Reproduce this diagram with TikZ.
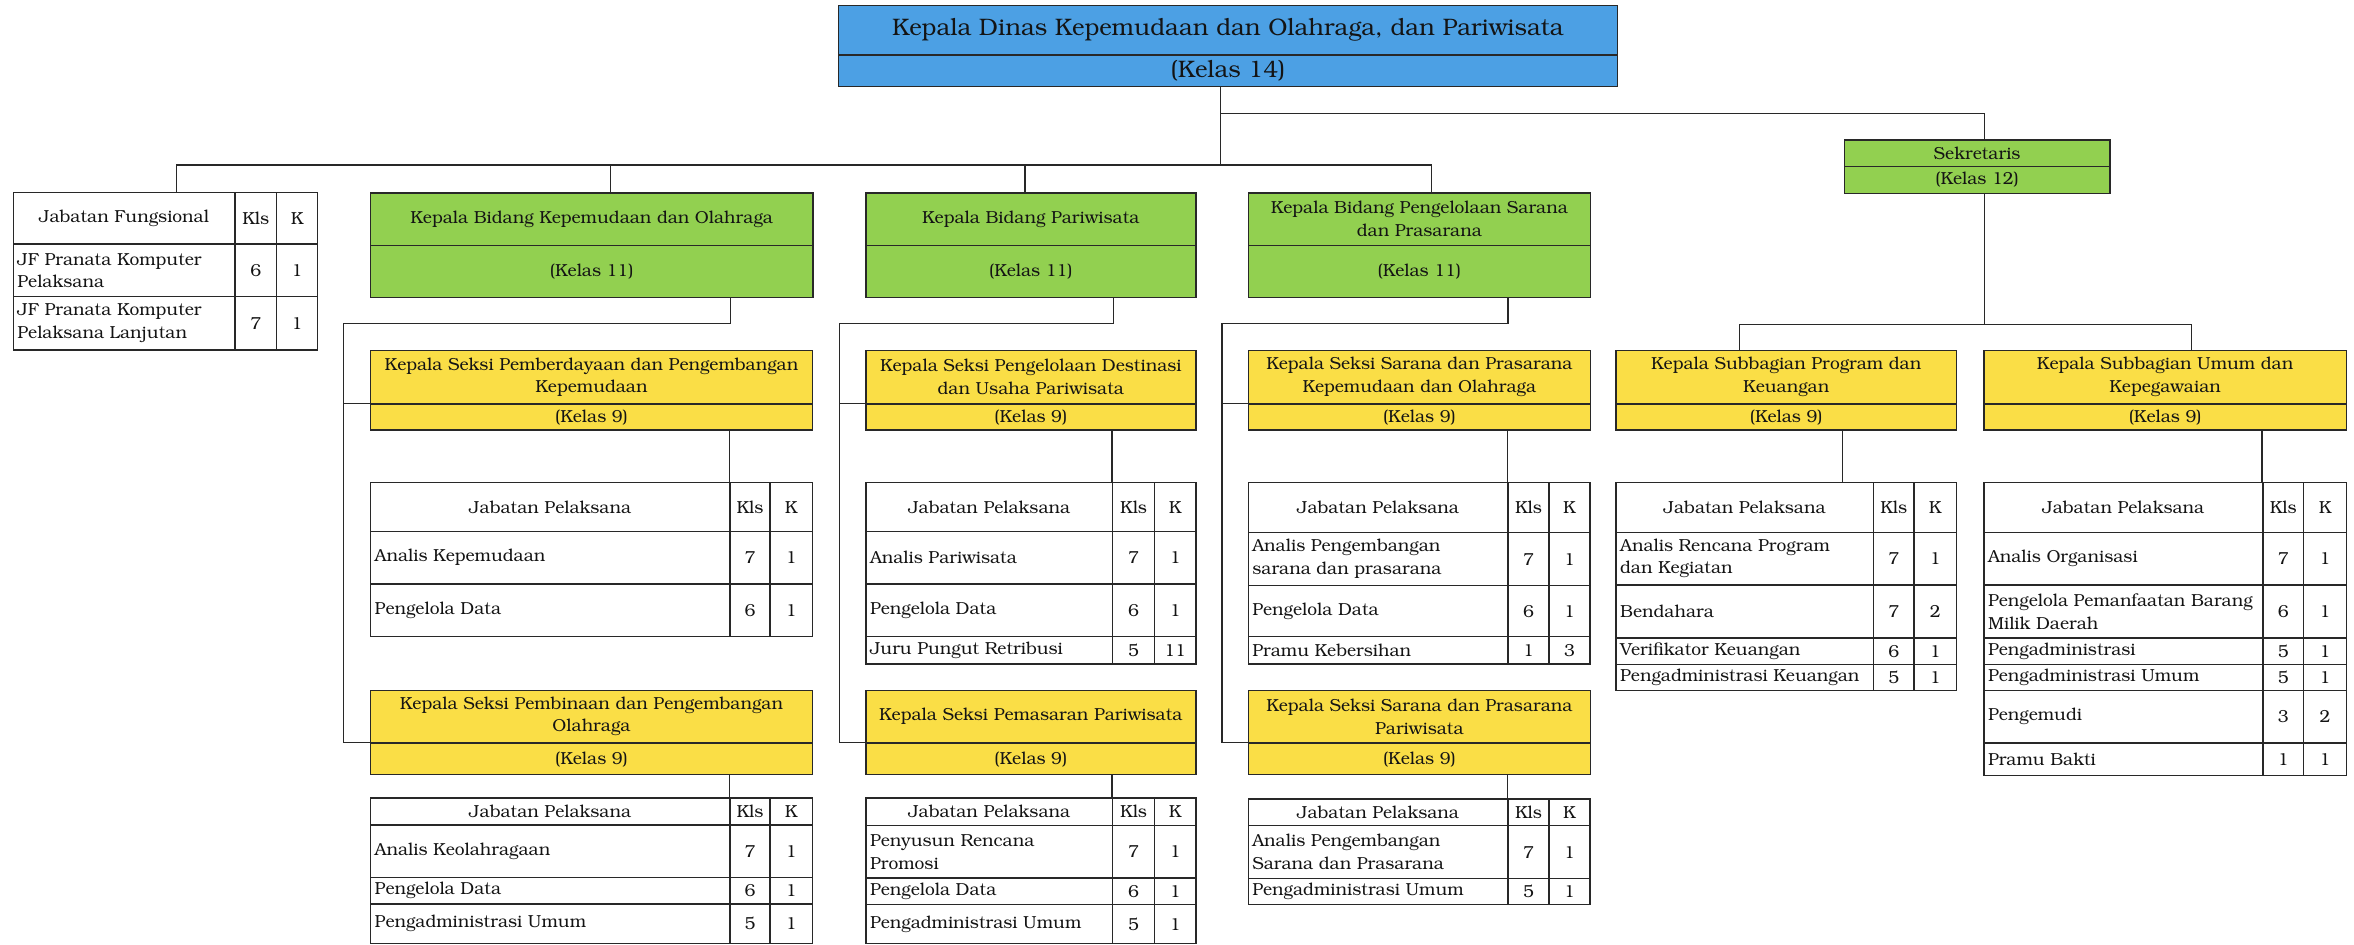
\documentclass[tikz,border=0pt]{standalone}
\usepackage[T1]{fontenc}
\usepackage{bookman}
\definecolor{hdblue}{RGB}{76,160,228}
\definecolor{bidgreen}{RGB}{146,208,80}
\definecolor{sekyellow}{RGB}{250,222,70}
\definecolor{ln}{RGB}{40,40,40}
\definecolor{txt}{RGB}{20,20,20}
\newcommand\bfont{\fontsize{11.6}{15}\selectfont}
\newcommand\tfont{\fontsize{15.9}{18}\selectfont}
\tikzset{
  box/.style={draw=ln, line width=0.9pt, anchor=north west, inner sep=0pt, align=center, font=\bfont, text=txt},
  cell/.style={draw=ln, line width=0.9pt, anchor=north west, inner sep=0pt, align=center, font=\bfont, text=txt},
  celltext/.style={inner sep=0pt, align=left, font=\bfont, text=txt},
  link/.style={draw=ln, line width=0.9pt},
}
% two-part box: title part and class part
\newcommand\orgbox[9]{%
  \pgfmathsetmacro\obW{#4-#3}\pgfmathsetmacro\obH{#6-#5}\pgfmathsetmacro\obK{#7-#6}%
  \node[box, fill=#2, minimum width=\obW pt, minimum height=\obH pt] (#1) at (#3,#5) {#8};
  \node[box, fill=#2, minimum width=\obW pt, minimum height=\obK pt] (#1-k) at (#3,#6) {#9};
}
% table columns: left, Kls, K, right
\newcommand\setcols[4]{\def\cA{#1}\def\cB{#2}\def\cC{#3}\def\cD{#4}}
\newcommand\colwidths[2]{%
  \pgfmathsetmacro\rH{#2-#1}%
  \pgfmathsetmacro\wA{\cB-\cA}\pgfmathsetmacro\wB{\cC-\cB}\pgfmathsetmacro\wC{\cD-\cC}%
}
\newcommand\thead[4]{%
  \colwidths{#2}{#3}%
  \node[cell, minimum width=\wA pt, minimum height=\rH pt] (#1-n) at (\cA,#2) {#4};
  \node[cell, minimum width=\wB pt, minimum height=\rH pt] (#1-c) at (\cB,#2) {Kls};
  \node[cell, minimum width=\wC pt, minimum height=\rH pt] (#1-k) at (\cC,#2) {K};
}
\newcommand\trow[6]{%
  \colwidths{#2}{#3}%
  \node[cell, minimum width=\wA pt, minimum height=\rH pt] (#1-n) at (\cA,#2) {};
  \node[celltext, anchor=west] (#1-t) at ([xshift=3pt]#1-n.west) {#4};
  \node[cell, minimum width=\wB pt, minimum height=\rH pt] (#1-c) at (\cB,#2) {#5};
  \node[cell, minimum width=\wC pt, minimum height=\rH pt] (#1-k) at (\cC,#2) {#6};
}
\begin{document}
\begin{tikzpicture}[x=1pt,y=-1pt]
\fill[white] (0,0) rectangle (1568,628.8);
\useasboundingbox (0,0) rectangle (1568,628.8);

% head of office and the two main levels
\orgbox{top}{hdblue}{558}{1077}{3.3}{36.2}{57.3}{\tfont Kepala Dinas Kepemudaan dan Olahraga, dan Pariwisata}{\tfont (Kelas 14)}
\orgbox{kp}{bidgreen}{246.4}{541}{128}{163}{197.6}{Kepala Bidang Kepemudaan dan Olahraga}{(Kelas 11)}
\orgbox{pw}{bidgreen}{576.3}{796.1}{128}{163}{197.6}{Kepala Bidang Pariwisata}{(Kelas 11)}
\orgbox{pg}{bidgreen}{831}{1059}{128}{163}{197.6}{Kepala Bidang Pengelolaan Sarana\\dan Prasarana}{(Kelas 11)}
\orgbox{sek}{bidgreen}{1228}{1405}{92.8}{110.3}{128.3}{Sekretaris}{(Kelas 12)}

% sections and sub-sections
\orgbox{sA}{sekyellow}{246.4}{540.7}{233}{268.6}{286}{Kepala Seksi Pemberdayaan dan Pengembangan\\Kepemudaan}{(Kelas 9)}
\orgbox{sB}{sekyellow}{576.3}{796.1}{233}{268.6}{286}{Kepala Seksi Pengelolaan Destinasi\\dan Usaha Pariwisata}{(Kelas 9)}
\orgbox{sC}{sekyellow}{831}{1059}{233}{268.6}{286}{Kepala Seksi Sarana dan Prasarana\\Kepemudaan dan Olahraga}{(Kelas 9)}
\orgbox{sD}{sekyellow}{1076}{1302.7}{233}{268.6}{286}{Kepala Subbagian Program dan\\Keuangan}{(Kelas 9)}
\orgbox{sE}{sekyellow}{1321}{1562.5}{233}{268.6}{286}{Kepala Subbagian Umum dan\\Kepegawaian}{(Kelas 9)}
\orgbox{sF}{sekyellow}{246.4}{540.7}{459.5}{494.5}{515.6}{Kepala Seksi Pembinaan dan Pengembangan\\Olahraga}{(Kelas 9)}
\orgbox{sG}{sekyellow}{576.3}{796.1}{459.5}{494.5}{515.6}{Kepala Seksi Pemasaran Pariwisata}{(Kelas 9)}
\orgbox{sH}{sekyellow}{831}{1059}{459.5}{494.5}{515.6}{Kepala Seksi Sarana dan Prasarana\\Pariwisata}{(Kelas 9)}

% functional positions
\setcols{8.4}{156}{183.8}{211}
\thead{jfh}{127.7}{162.1}{Jabatan Fungsional}
\trow{jf1}{162.1}{197.1}{JF Pranata Komputer\\Pelaksana}{6}{1}
\trow{jf2}{197.1}{232.7}{JF Pranata Komputer\\Pelaksana Lanjutan}{7}{1}

% staff tables
\setcols{246.4}{485.7}{512.5}{540.7}
\thead{tAh}{321}{353.7}{Jabatan Pelaksana}
\trow{tA1}{353.7}{388.5}{Analis Kepemudaan}{7}{1}
\trow{tA2}{388.5}{423.4}{Pengelola Data}{6}{1}
\thead{tFh}{531}{549}{Jabatan Pelaksana}
\trow{tF1}{549}{584}{Analis Keolahragaan}{7}{1}
\trow{tF2}{584}{601.7}{Pengelola Data}{6}{1}
\trow{tF3}{601.7}{628}{Pengadministrasi Umum}{5}{1}

\setcols{576.3}{740.7}{768.6}{796.1}
\thead{tBh}{321}{353.7}{Jabatan Pelaksana}
\trow{tB1}{353.7}{388.5}{Analis Pariwisata}{7}{1}
\trow{tB2}{388.5}{423.6}{Pengelola Data}{6}{1}
\trow{tB3}{423.6}{441.9}{Juru Pungut Retribusi}{5}{11}
\thead{tGh}{531}{549.5}{Jabatan Pelaksana}
\trow{tG1}{549.5}{584.4}{Penyusun Rencana\\Promosi}{7}{1}
\trow{tG2}{584.4}{602.2}{Pengelola Data}{6}{1}
\trow{tG3}{602.2}{628}{Pengadministrasi Umum}{5}{1}

\setcols{831}{1004}{1031.3}{1058.6}
\thead{tCh}{321}{354.1}{Jabatan Pelaksana}
\trow{tC1}{354.1}{389.6}{Analis Pengembangan\\sarana dan prasarana}{7}{1}
\trow{tC2}{389.6}{423.6}{Pengelola Data}{6}{1}
\trow{tC3}{423.6}{441.9}{Pramu Kebersihan}{1}{3}
\thead{tHh}{531.8}{549.6}{Jabatan Pelaksana}
\trow{tH1}{549.6}{584.6}{Analis Pengembangan\\Sarana dan Prasarana}{7}{1}
\trow{tH2}{584.6}{602.2}{Pengadministrasi Umum}{5}{1}

\setcols{1076}{1247.3}{1274.5}{1302.7}
\thead{tDh}{321}{354.1}{Jabatan Pelaksana}
\trow{tD1}{354.1}{389.2}{Analis Rencana Program\\dan Kegiatan}{7}{1}
\trow{tD2}{389.2}{424.5}{Bendahara}{7}{2}
\trow{tD3}{424.5}{442.2}{Verifikator Keuangan}{6}{1}
\trow{tD4}{442.2}{459.5}{Pengadministrasi Keuangan}{5}{1}

\setcols{1321}{1506.8}{1534}{1562.5}
\thead{tEh}{321}{354.1}{Jabatan Pelaksana}
\trow{tE1}{354.1}{389.2}{Analis Organisasi}{7}{1}
\trow{tE2}{389.2}{424.5}{Pengelola Pemanfaatan Barang\\Milik Daerah}{6}{1}
\trow{tE3}{424.5}{442.2}{Pengadministrasi}{5}{1}
\trow{tE4}{442.2}{459.5}{Pengadministrasi Umum}{5}{1}
\trow{tE5}{459.5}{494.4}{Pengemudi}{3}{2}
\trow{tE6}{494.4}{516.2}{Pramu Bakti}{1}{1}

% junction points of the connector lines
\coordinate (bus) at (813,110);
\coordinate (bus2) at (813,75.5);
\coordinate (bus3) at (1321.5,216);
\coordinate (colA) at (228.7,215.3);
\coordinate (colB) at (559.3,215.3);
\coordinate (colC) at (814,215.3);

% head to the bidang level and the secretary
\draw[link] (top-k.south -| bus) -- (bus);
\draw[link] (bus2) -| ([xshift=5pt]sek.north);
\draw[link] ([xshift=35pt]jfh-n.north) |- ([xshift=8pt]pg.north |- bus) -- ([xshift=8pt]pg.north);
\draw[link] ([xshift=12.3pt]kp.north) -- ([xshift=12.3pt]kp.north |- bus);
\draw[link] ([xshift=-4pt]pw.north) -- ([xshift=-4pt]pw.north |- bus);

% bidang to their sections
\draw[link] ([xshift=92.3pt]kp-k.south) |- (colA) |- (sF-k.north west);
\draw[link] (colA |- sA-k.north west) -- (sA-k.north west);
\draw[link] ([xshift=55pt]pw-k.south) |- (colB) |- (sG-k.north west);
\draw[link] (colB |- sB-k.north west) -- (sB-k.north west);
\draw[link] ([xshift=59pt]pg-k.south) |- (colC) |- (sH-k.north west);
\draw[link] (colC |- sC-k.north west) -- (sC-k.north west);

% secretary to sub-sections
\draw[link] ([xshift=5pt]sek-k.south) -- ([xshift=5pt]sek-k.south |- bus3);
\draw[link] ([xshift=-31.35pt]sD.north) |- (bus3) -| ([xshift=17.5pt]sE.north);

% sections to their staff tables
\draw[link] (sA-k.south -| tAh-c.north west) -- (tAh-c.north west);
\draw[link] (sB-k.south -| tBh-c.north west) -- (tBh-c.north west);
\draw[link] (sC-k.south -| tCh-c.north west) -- (tCh-c.north west);
\draw[link] ([xshift=37.45pt]sD-k.south) -- ([xshift=37.45pt]sD-k.south |- tDh-n.north);
\draw[link] (sE-k.south -| tEh-c.north west) -- (tEh-c.north west);
\draw[link] (sF-k.south -| tFh-c.north west) -- (tFh-c.north west);
\draw[link] (sG-k.south -| tGh-c.north west) -- (tGh-c.north west);
\draw[link] (sH-k.south -| tHh-c.north west) -- (tHh-c.north west);
\end{tikzpicture}
\end{document}
